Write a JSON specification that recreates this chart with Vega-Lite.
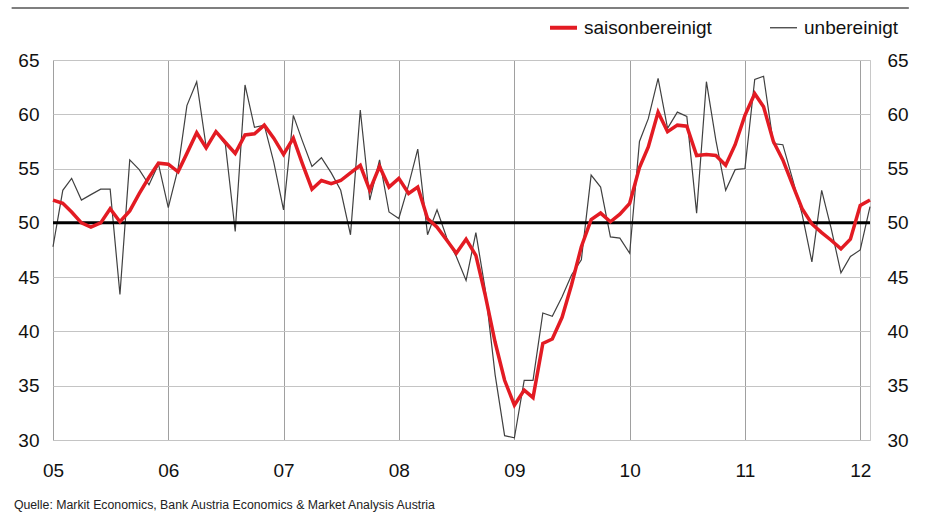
{
  "$schema": "https://vega.github.io/schema/vega-lite/v6.json",
  "width": 817,
  "height": 380,
  "autosize": {"type": "none"},
  "padding": {"left": 53, "top": 60, "right": 58, "bottom": 73},
  "background": "white",
  "config": {"view": {"stroke": "#c8c8c8"}, "font": "Liberation Sans"},
  "title": {
    "text": "Quelle: Markit Economics, Bank Austria Economics & Market Analysis Austria",
    "orient": "bottom", "anchor": "start", "frame": "bounds", "dx": 3,
    "fontSize": 12.3, "fontWeight": "normal", "color": "#222", "offset": 19, "font": "Liberation Sans"
  },
  "data": {"values": [
    {"date": "2005/01/01", "saisonbereinigt": 52.1, "unbereinigt": 47.8},
    {"date": "2005/02/01", "saisonbereinigt": 51.8, "unbereinigt": 53.0},
    {"date": "2005/03/01", "saisonbereinigt": 51.0, "unbereinigt": 54.1},
    {"date": "2005/04/01", "saisonbereinigt": 50.0, "unbereinigt": 52.1},
    {"date": "2005/05/01", "saisonbereinigt": 49.6, "unbereinigt": 52.6},
    {"date": "2005/06/01", "saisonbereinigt": 50.0, "unbereinigt": 53.1},
    {"date": "2005/07/01", "saisonbereinigt": 51.3, "unbereinigt": 53.1},
    {"date": "2005/08/01", "saisonbereinigt": 50.1, "unbereinigt": 43.4},
    {"date": "2005/09/01", "saisonbereinigt": 51.1, "unbereinigt": 55.8},
    {"date": "2005/10/01", "saisonbereinigt": 52.7, "unbereinigt": 54.9},
    {"date": "2005/11/01", "saisonbereinigt": 54.2, "unbereinigt": 53.5},
    {"date": "2005/12/01", "saisonbereinigt": 55.5, "unbereinigt": 55.4},
    {"date": "2006/01/01", "saisonbereinigt": 55.4, "unbereinigt": 51.4},
    {"date": "2006/02/01", "saisonbereinigt": 54.7, "unbereinigt": 55.0},
    {"date": "2006/03/01", "saisonbereinigt": 56.4, "unbereinigt": 60.8},
    {"date": "2006/04/01", "saisonbereinigt": 58.3, "unbereinigt": 63.0},
    {"date": "2006/05/01", "saisonbereinigt": 56.9, "unbereinigt": 57.0},
    {"date": "2006/06/01", "saisonbereinigt": 58.4, "unbereinigt": 58.4},
    {"date": "2006/07/01", "saisonbereinigt": 57.4, "unbereinigt": 57.2},
    {"date": "2006/08/01", "saisonbereinigt": 56.4, "unbereinigt": 49.2},
    {"date": "2006/09/01", "saisonbereinigt": 58.1, "unbereinigt": 62.7},
    {"date": "2006/10/01", "saisonbereinigt": 58.2, "unbereinigt": 58.8},
    {"date": "2006/11/01", "saisonbereinigt": 59.0, "unbereinigt": 59.0},
    {"date": "2006/12/01", "saisonbereinigt": 57.8, "unbereinigt": 55.6},
    {"date": "2007/01/01", "saisonbereinigt": 56.3, "unbereinigt": 51.2},
    {"date": "2007/02/01", "saisonbereinigt": 57.8, "unbereinigt": 59.9},
    {"date": "2007/03/01", "saisonbereinigt": 55.5, "unbereinigt": 57.6},
    {"date": "2007/04/01", "saisonbereinigt": 53.1, "unbereinigt": 55.2},
    {"date": "2007/05/01", "saisonbereinigt": 53.9, "unbereinigt": 56.0},
    {"date": "2007/06/01", "saisonbereinigt": 53.6, "unbereinigt": 54.6},
    {"date": "2007/07/01", "saisonbereinigt": 53.9, "unbereinigt": 53.0},
    {"date": "2007/08/01", "saisonbereinigt": 54.6, "unbereinigt": 48.9},
    {"date": "2007/09/01", "saisonbereinigt": 55.3, "unbereinigt": 60.4},
    {"date": "2007/10/01", "saisonbereinigt": 53.0, "unbereinigt": 52.1},
    {"date": "2007/11/01", "saisonbereinigt": 55.2, "unbereinigt": 55.8},
    {"date": "2007/12/01", "saisonbereinigt": 53.3, "unbereinigt": 51.0},
    {"date": "2008/01/01", "saisonbereinigt": 54.1, "unbereinigt": 50.4},
    {"date": "2008/02/01", "saisonbereinigt": 52.7, "unbereinigt": 53.5},
    {"date": "2008/03/01", "saisonbereinigt": 53.3, "unbereinigt": 56.8},
    {"date": "2008/04/01", "saisonbereinigt": 50.4, "unbereinigt": 48.9},
    {"date": "2008/05/01", "saisonbereinigt": 49.6, "unbereinigt": 51.2},
    {"date": "2008/06/01", "saisonbereinigt": 48.4, "unbereinigt": 48.6},
    {"date": "2008/07/01", "saisonbereinigt": 47.2, "unbereinigt": 46.9},
    {"date": "2008/08/01", "saisonbereinigt": 48.5, "unbereinigt": 44.7},
    {"date": "2008/09/01", "saisonbereinigt": 47.0, "unbereinigt": 49.1},
    {"date": "2008/10/01", "saisonbereinigt": 43.3, "unbereinigt": 43.8},
    {"date": "2008/11/01", "saisonbereinigt": 39.0, "unbereinigt": 36.0},
    {"date": "2008/12/01", "saisonbereinigt": 35.5, "unbereinigt": 30.4},
    {"date": "2009/01/01", "saisonbereinigt": 33.2, "unbereinigt": 30.2},
    {"date": "2009/02/01", "saisonbereinigt": 34.6, "unbereinigt": 35.5},
    {"date": "2009/03/01", "saisonbereinigt": 33.9, "unbereinigt": 35.5},
    {"date": "2009/04/01", "saisonbereinigt": 38.9, "unbereinigt": 41.7},
    {"date": "2009/05/01", "saisonbereinigt": 39.3, "unbereinigt": 41.4},
    {"date": "2009/06/01", "saisonbereinigt": 41.3, "unbereinigt": 43.2},
    {"date": "2009/07/01", "saisonbereinigt": 44.3, "unbereinigt": 45.2},
    {"date": "2009/08/01", "saisonbereinigt": 47.8, "unbereinigt": 46.6},
    {"date": "2009/09/01", "saisonbereinigt": 50.3, "unbereinigt": 54.4},
    {"date": "2009/10/01", "saisonbereinigt": 50.9, "unbereinigt": 53.3},
    {"date": "2009/11/01", "saisonbereinigt": 50.1, "unbereinigt": 48.7},
    {"date": "2009/12/01", "saisonbereinigt": 50.8, "unbereinigt": 48.6},
    {"date": "2010/01/01", "saisonbereinigt": 51.8, "unbereinigt": 47.2},
    {"date": "2010/02/01", "saisonbereinigt": 55.1, "unbereinigt": 57.5},
    {"date": "2010/03/01", "saisonbereinigt": 57.0, "unbereinigt": 59.6},
    {"date": "2010/04/01", "saisonbereinigt": 60.2, "unbereinigt": 63.3},
    {"date": "2010/05/01", "saisonbereinigt": 58.4, "unbereinigt": 58.7},
    {"date": "2010/06/01", "saisonbereinigt": 59.0, "unbereinigt": 60.2},
    {"date": "2010/07/01", "saisonbereinigt": 58.9, "unbereinigt": 59.8},
    {"date": "2010/08/01", "saisonbereinigt": 56.2, "unbereinigt": 50.9},
    {"date": "2010/09/01", "saisonbereinigt": 56.3, "unbereinigt": 63.0},
    {"date": "2010/10/01", "saisonbereinigt": 56.2, "unbereinigt": 57.6},
    {"date": "2010/11/01", "saisonbereinigt": 55.3, "unbereinigt": 53.0},
    {"date": "2010/12/01", "saisonbereinigt": 57.2, "unbereinigt": 54.9},
    {"date": "2011/01/01", "saisonbereinigt": 59.9, "unbereinigt": 55.0},
    {"date": "2011/02/01", "saisonbereinigt": 61.9, "unbereinigt": 63.2},
    {"date": "2011/03/01", "saisonbereinigt": 60.7, "unbereinigt": 63.5},
    {"date": "2011/04/01", "saisonbereinigt": 57.5, "unbereinigt": 57.3},
    {"date": "2011/05/01", "saisonbereinigt": 55.8, "unbereinigt": 57.2},
    {"date": "2011/06/01", "saisonbereinigt": 53.5, "unbereinigt": 54.0},
    {"date": "2011/07/01", "saisonbereinigt": 51.3, "unbereinigt": 50.8},
    {"date": "2011/08/01", "saisonbereinigt": 49.9, "unbereinigt": 46.4},
    {"date": "2011/09/01", "saisonbereinigt": 49.1, "unbereinigt": 53.0},
    {"date": "2011/10/01", "saisonbereinigt": 48.4, "unbereinigt": 49.5},
    {"date": "2011/11/01", "saisonbereinigt": 47.6, "unbereinigt": 45.4},
    {"date": "2011/12/01", "saisonbereinigt": 48.5, "unbereinigt": 46.9},
    {"date": "2012/01/01", "saisonbereinigt": 51.6, "unbereinigt": 47.5},
    {"date": "2012/02/01", "saisonbereinigt": 52.1, "unbereinigt": 51.5}
  ]},
  "transform": [{"fold": ["saisonbereinigt", "unbereinigt"], "as": ["series", "value"]}],
  "resolve": {"axis": {"y": "independent"}},
  "layer": [
    {
      "transform": [{"filter": "datum.series === 'unbereinigt'"}],
      "mark": {"type": "line", "strokeWidth": 1.2},
      "encoding": {
        "x": {
          "field": "date", "type": "temporal",
          "scale": {"domain": [{"year": 2005, "month": 1, "date": 1}, {"year": 2012, "month": 2, "date": 1}]},
          "axis": {
            "format": "%y", "tickCount": {"interval": "year", "step": 1},
            "grid": true, "gridColor": "#a0a0a0", "gridWidth": 1,
            "domain": false, "ticks": false, "labelFontSize": 19, "labelPadding": 21,
            "labelColor": "#111", "labelFlush": false, "title": null, "labelFont": "Liberation Sans"
          }
        },
        "y": {
          "field": "value", "type": "quantitative",
          "scale": {"domain": [30, 65], "nice": false, "zero": false},
          "axis": {
            "orient": "left", "values": [30, 35, 40, 45, 50, 55, 60, 65],
            "grid": true, "gridColor": "#c4c4c4", "domain": false, "ticks": false,
            "labelFontSize": 19, "labelPadding": 14, "labelColor": "#111", "title": null, "labelFont": "Liberation Sans"
          }
        },
        "color": {
          "field": "series", "type": "nominal",
          "scale": {"domain": ["saisonbereinigt", "unbereinigt"], "range": ["#e31b23", "#404040"]},
          "legend": {
            "orient": "none", "legendX": 501, "legendY": -42, "direction": "horizontal",
            "title": null, "symbolType": "stroke", "symbolSize": 729, "symbolStrokeWidth": 4,
            "labelFontSize": 19, "labelFont": "Liberation Sans", "labelColor": "#111",
            "labelOffset": 11, "columnPadding": 55, "padding": 0,
            "encode": {"symbols": {"update": {"strokeWidth": {"signal": "datum.value === 'saisonbereinigt' ? 4 : 1.3"}}}}
          }
        }
      }
    },
    {
      "data": {"values": [{"level": 50}]},
      "mark": {"type": "rule", "color": "#000000", "strokeWidth": 3},
      "encoding": {
        "y": {"field": "level", "type": "quantitative", "scale": {"domain": [30, 65], "nice": false, "zero": false}, "axis": null}
      }
    },
    {
      "data": {"values": [{"top": 69.8}]},
      "mark": {"type": "rule", "color": "#555555", "strokeWidth": 1.5},
      "encoding": {
        "x": {"datum": {"year": 2004, "month": 8, "date": 23}, "type": "temporal"},
        "x2": {"datum": {"year": 2012, "month": 6, "date": 3}},
        "y": {"field": "top", "type": "quantitative", "scale": {"domain": [30, 65], "nice": false, "zero": false}, "axis": null}
      }
    },
    {
      "transform": [{"filter": "datum.series === 'saisonbereinigt'"}],
      "mark": {"type": "line", "strokeWidth": 3.5},
      "encoding": {
        "x": {"field": "date", "type": "temporal"},
        "y": {
          "field": "value", "type": "quantitative",
          "scale": {"domain": [30, 65], "nice": false, "zero": false},
          "axis": {
            "orient": "right", "values": [30, 35, 40, 45, 50, 55, 60, 65],
            "grid": false, "domain": false, "ticks": false,
            "labelFontSize": 19, "labelPadding": 17, "labelColor": "#111", "title": null, "labelFont": "Liberation Sans"
          }
        },
        "color": {"field": "series", "type": "nominal"}
      }
    }
  ]
}
